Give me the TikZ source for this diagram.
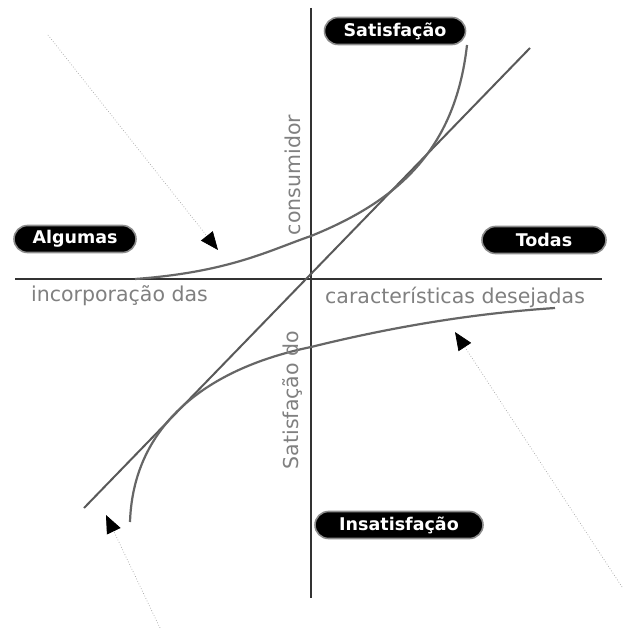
\documentclass[tikz,border=0pt]{standalone}
\usepackage{fontspec}
\setmainfont{DejaVu Sans}
\usetikzlibrary{arrows.meta,shapes.misc}
\begin{document}
\begin{tikzpicture}[x=1pt,y=-1pt,
  pill/.style={rounded rectangle, fill=black, draw=black!45, line width=1.6pt,
    text=white, font=\bfseries\fontsize{17.5}{17.5}\selectfont, minimum height=27pt, inner sep=2pt},
  axisline/.style={draw=black!80, line width=2.6pt},
  curveline/.style={draw=black!60, line width=2.2pt},
  diagline/.style={draw=black!65, line width=2pt},
  axislabel/.style={text=black!50, font=\fontsize{20.5}{20.5}\selectfont, inner sep=0pt},
  pointer/.style={draw=black!35, dotted, line width=0.7pt,
    -{Triangle[length=18pt,width=15pt,color=black]}}]
\useasboundingbox (0,0) rectangle (637,628);
\fill[white] (0,0) rectangle (637,628);
% axes
\coordinate (xl) at (15,279);
\coordinate (xr) at (602,279);
\coordinate (yt) at (311,8);
\coordinate (yb) at (311,598);
\draw[axisline] (xl) -- (xr);
\draw[axisline] (yt) -- (yb);
% diagonal
\coordinate (dl) at (84,508);
\coordinate (dr) at (530,48);
\draw[diagline] (dl) -- (dr);
% attractive curve
\coordinate (a0) at (135,279);
\coordinate (a1) at (311,236);
\coordinate (a2) at (467,45);
\draw[curveline] (a0) .. controls (230,272) and (270,250) .. (a1)
  .. controls (395,202) and (455,152) .. (a2);
% must-be curve
\coordinate (m0) at (130,522);
\coordinate (m1) at (311,347);
\coordinate (m2) at (555,308);
\draw[curveline] (m0) .. controls (133,430) and (200,370) .. (m1)
  .. controls (400,325) and (480,313) .. (m2);
% labels
\node[pill, minimum width=145pt] (sat) at (395,31) {Satisfação};
\node[pill, minimum width=126pt] (alg) at (75,239) {Algumas};
\node[pill, minimum width=128pt] (tod) at (544,240) {Todas};
\node[pill, minimum width=172pt] (ins) at (399,525) {Insatisfação};
\node[axislabel, anchor=west] (inc) at (31,296) {incorporação das};
\node[axislabel, anchor=west] (car) at (325,297) {características desejadas};
\node[axislabel, rotate=90] (con) at (293,175) {consumidor};
\node[axislabel, rotate=90] (sdo) at (293,400) {Satisfação do};
% pointers
\coordinate (p1s) at (48,35);
\coordinate (p1e) at (218,250);
\coordinate (p2s) at (160,628);
\coordinate (p2e) at (106,515);
\coordinate (p3s) at (622,587);
\coordinate (p3e) at (455,332);
\draw[pointer] (p1s) -- (p1e);
\draw[pointer] (p2s) -- (p2e);
\draw[pointer] (p3s) -- (p3e);
\end{tikzpicture}
\end{document}
